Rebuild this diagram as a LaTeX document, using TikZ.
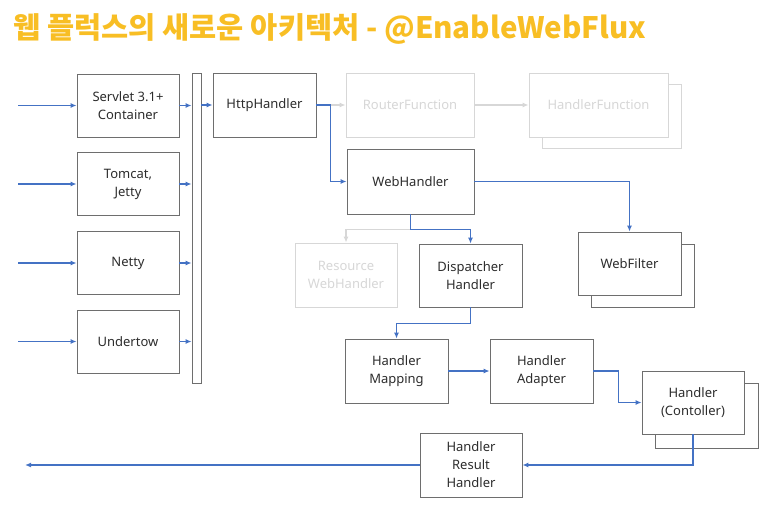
\documentclass[tikz,border=0pt]{standalone}
\usepackage{fontspec}
\usepackage{xcolor}
\setmainfont{Noto Sans}
\newfontfamily\krfont{Noto Sans CJK KR}
\usetikzlibrary{arrows.meta}

\definecolor{flowblue}{RGB}{68,114,196}
\definecolor{titlegold}{RGB}{248,190,36}
\definecolor{edge}{RGB}{110,110,110}
\definecolor{faded}{RGB}{215,215,215}
\definecolor{ink}{RGB}{45,45,45}

\begin{document}
\begin{tikzpicture}[x=1pt,y=-1pt,
    font=\fontsize{13}{18}\selectfont,
    box/.style={draw=edge,fill=white,text=ink,line width=0.8pt,minimum width=102pt,minimum height=63pt,align=center,inner sep=2pt},
    ghost/.style={box,draw=faded,text=faded},
    flow/.style={draw=flowblue,line width=1.8pt,-{Latex[length=6pt,width=5pt]}},
    faint/.style={draw=faded,line width=1.8pt,-{Latex[length=6pt,width=5pt]}}]
    \useasboundingbox (0,0) rectangle (773,511);

    \node[anchor=west,text=titlegold,font=\krfont\bfseries\fontsize{29.5}{32}\selectfont] (title) at (10,29) {웹 플럭스의 새로운 아키텍처 - @EnableWebFlux};

    % containers and the adapter bar
    \node[draw=edge,line width=0.8pt,minimum width=9pt,minimum height=310pt,inner sep=0pt] (bar) at (196.5,228) {};
    \foreach \name/\label/\ypos in {srv/{Servlet 3.1+\\Container}/105.5, tom/{Tomcat,\\Jetty}/184, net/Netty/263, und/Undertow/341.5} {
        \node[box] (\name) at (128,\ypos) {\label};
        \coordinate (\name-in) at (18,\ypos);
        \draw[flow] (\name-in) -- (\name.west);
        \draw[flow] (\name.east) -- (\name.east -| bar.west);
    }

    \node[box,minimum width=103pt,minimum height=64pt] (http) at (264.5,105) {HttpHandler};
    \draw[flow] (bar.east |- http.west) -- (http.west);

    % functional endpoints (faded)
    \node[ghost,minimum width=128pt,minimum height=64pt] (router) at (410,105) {RouterFunction};
    \node[ghost,minimum width=139pt,minimum height=64pt] (hfunback) at (611.5,116) {};
    \node[ghost,minimum width=139pt,minimum height=64pt] (hfun) at (598.5,105) {HandlerFunction};
    \draw[faint] ([xshift=14pt]http.east) -- (router.west);
    \draw[faint] (router.east) -- (hfun.west);

    \node[box,minimum width=127pt,minimum height=65pt] (web) at (410.5,181.5) {WebHandler};
    \draw[flow] (http.east) -- ++(14,0) |- (web.west);

    \node[box,minimum width=103pt] (filtback) at (643,276) {};
    \node[box,minimum width=103pt] (filt) at (629.5,263.5) {WebFilter};
    \draw[flow] (web.east) -| (filt.north);

    \node[ghost,minimum height=64pt] (res) at (346,275) {Resource\\WebHandler};
    \node[box,minimum width=103pt] (disp) at (470.5,275.5) {Dispatcher\\Handler};
    \draw[faint] (web.south) -- ++(0,15) -| (res.north);
    \draw[flow] (web.south) -- ++(0,15) -| (disp.north);

    \node[box,minimum width=103pt,minimum height=64pt] (map) at (396.5,371) {Handler\\Mapping};
    \node[box,minimum width=103pt,minimum height=64pt] (adp) at (541.5,371) {Handler\\Adapter};
    \draw[flow] (disp.south) -- ++(0,16) -| (map.north);
    \draw[flow] (map.east) -- (adp.west);

    \node[box,minimum width=103pt,minimum height=65pt] (ctlback) at (706.5,415.5) {};
    \node[box] (ctl) at (693,402.5) {Handler\\(Contoller)};
    \draw[flow] (adp.east) -- ++(25,0) |- (ctl.west);

    \node[box,minimum height=64pt] (rh) at (471,465) {Handler\\Result\\Handler};
    \coordinate (out) at (25,465);
    \draw[flow] (ctl.south) |- (rh.east);
    \draw[flow] (rh.west) -- (out);
\end{tikzpicture}
\end{document}
